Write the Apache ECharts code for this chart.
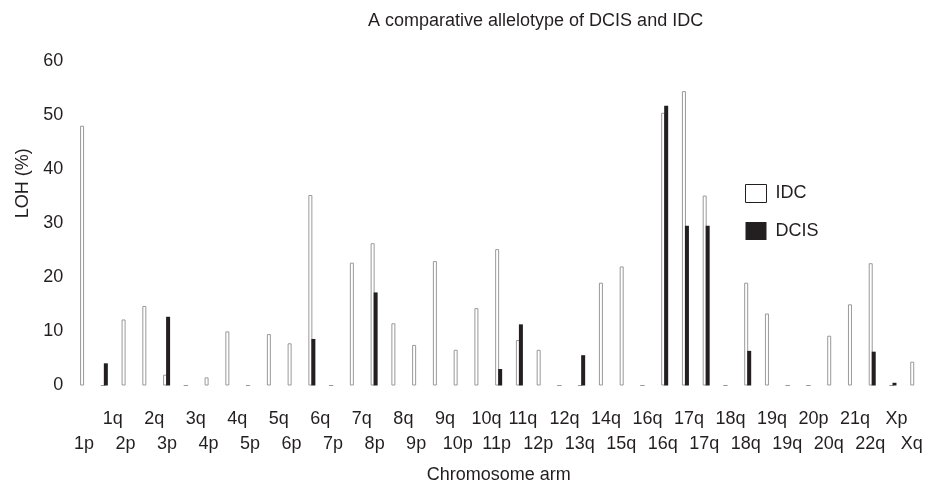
<!DOCTYPE html>
<html>
<head>
<meta charset="utf-8">
<script src="https://cdn.jsdelivr.net/npm/echarts@6/dist/echarts.min.js"></script>
<style>html,body{margin:0;padding:0;background:#fff}#c{width:930px;height:486px}</style>
</head>
<body>
<div id="c"></div>
<script>
// Chromosome arm tick labels (as printed; alternating upper/lower rows)
const arms = ['1p','1q','2p','2q','3p','3q','4p','4q','5p','5q','6p','6q','7p','7q','8p','8q','9p','9q','10p','10q','11p','11q','12p','12q','13q','14q','15q','16q','16q','17q','17q','18q','18q','19q','19q','20p','20q','21q','22q','Xp','Xq'];
// LOH (%) in invasive ductal carcinoma
const idc = [48, 0, 12.2, 14.7, 2, 0, 1.5, 10, 0, 9.5, 7.8, 35.2, 0, 22.7, 26.3, 11.5, 7.5, 23, 6.6, 14.3, 25.2, 8.4, 6.6, 0, 0, 19, 22, 0, 50.4, 54.4, 35.1, 0, 19, 13.3, 0, 0, 9.2, 15, 22.6, 0, 4.4];
// LOH (%) in ductal carcinoma in situ
const dcis = [0, 4.1, 0, 0, 12.7, 0, 0, 0, 0, 0, 0, 8.6, 0, 0, 17.2, 0, 0, 0, 0, 0, 3.05, 11.3, 0, 0, 5.6, 0, 0, 0, 51.7, 29.5, 29.5, 0, 6.4, 0, 0, 0, 0, 0, 6.25, 0.5, 0];

const FONT = "'Liberation Sans', Arial, sans-serif";
const INK = '#231f20';
const chart = echarts.init(document.getElementById('c'), null, {renderer: 'canvas'});
chart.setOption({
  animation: false,
  backgroundColor: '#fff',
  textStyle: {fontFamily: FONT, color: INK},
  title: {
    text: 'A comparative allelotype of DCIS and IDC',
    left: 368, top: 12, padding: 0,
    textStyle: {fontFamily: FONT, fontSize: 18, fontWeight: 'normal', color: INK}
  },
  legend: {
    orient: 'vertical', left: 745, top: 184, padding: 0,
    itemWidth: 21, itemHeight: 18, itemGap: 19,
    icon: 'rect',
    textStyle: {fontFamily: FONT, fontSize: 18, color: INK, padding: [0, 0, 0, 4]},
    data: [
      {name: 'IDC', itemStyle: {color: '#fff', borderColor: INK, borderWidth: 1}},
      {name: 'DCIS', itemStyle: {color: INK}}
    ]
  },
  grid: {left: 73.2, right: 5.9, top: 60.8, bottom: 100.5, containLabel: false, outerBoundsMode: 'none'},
  xAxis: {
    type: 'category',
    data: arms,
    axisLine: {show: false},
    axisTick: {show: false},
    name: 'Chromosome arm',
    nameLocation: 'middle',
    nameGap: 81,
    nameTextStyle: {fontFamily: FONT, fontSize: 18, color: INK},
    axisLabel: {
      interval: 0,
      hideOverlap: false,
      margin: 21,
      fontFamily: FONT, fontSize: 18, color: INK, lineHeight: 25,
      formatter: function (value, index) {
        if (index % 2 === 1) {
          return '{' + (index <= 19 ? 't1' : 't2') + '|' + value + '}';
        }
        return '\n{' + (index <= 18 ? 'b1' : 'b2') + '|' + value + '}';
      },
      rich: {
        t1: {fontFamily: FONT, fontSize: 18, color: INK, lineHeight: 25, padding: [0, 0, 0, 17]},
        t2: {fontFamily: FONT, fontSize: 18, color: INK, lineHeight: 25, padding: [0, 0, 0, 7]},
        b1: {fontFamily: FONT, fontSize: 18, color: INK, lineHeight: 25, padding: [0, 0, 0, 1]},
        b2: {fontFamily: FONT, fontSize: 18, color: INK, lineHeight: 25, padding: [0, 4, 0, 0]}
      }
    }
  },
  yAxis: {
    type: 'value',
    min: 0, max: 60, interval: 10,
    axisLine: {show: false},
    axisTick: {show: false},
    splitLine: {show: false},
    axisLabel: {margin: 10, fontFamily: FONT, fontSize: 18, color: INK},
    name: 'LOH (%)',
    nameLocation: 'middle',
    nameGap: 40,
    nameRotate: 90,
    nameTextStyle: {fontFamily: FONT, fontSize: 18, color: INK, padding: [0, 0, 0, 80]}
  },
  series: [
    {
      name: 'IDC', type: 'bar', data: idc,
      barWidth: 4, barGap: '-25%',
      itemStyle: {color: '#fff', borderColor: '#999', borderWidth: 1},
      emphasis: {disabled: true}
    },
    {
      name: 'DCIS', type: 'bar', data: dcis,
      barWidth: 4,
      itemStyle: {color: INK},
      emphasis: {disabled: true}
    }
  ]
});
</script>
</body>
</html>
